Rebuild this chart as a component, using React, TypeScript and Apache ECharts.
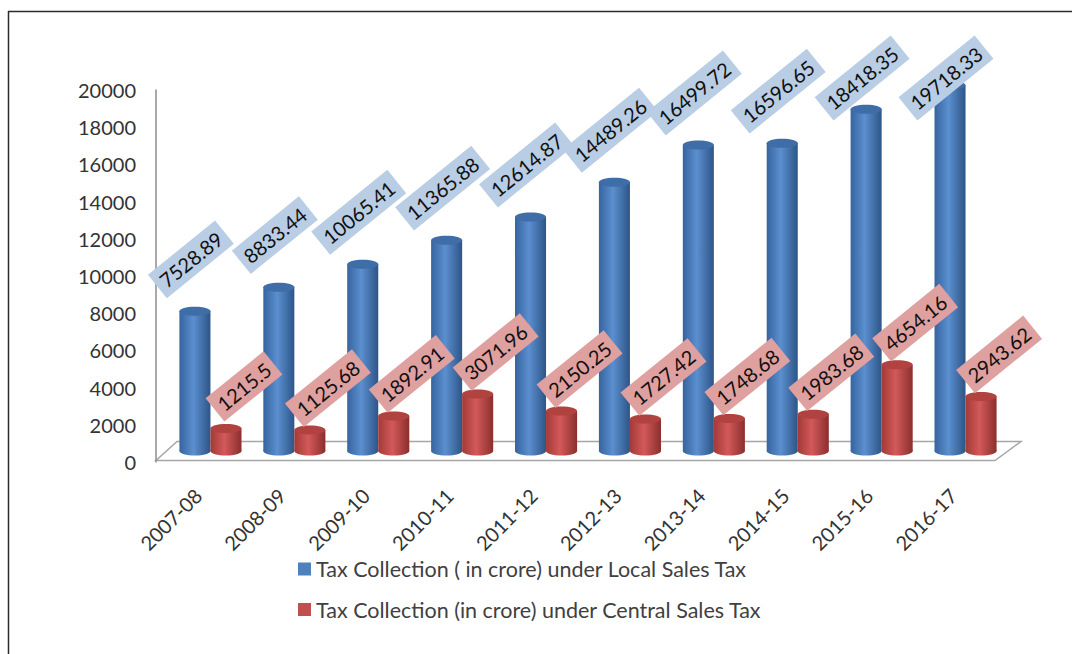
import React, { useEffect, useRef } from "react";
import * as echarts from "echarts";

const categories = ["2007-08", "2008-09", "2009-10", "2010-11", "2011-12", "2012-13", "2013-14", "2014-15", "2015-16", "2016-17"];
const localSalesTax = [7528.89, 8833.44, 10065.41, 11365.88, 12614.87, 14489.26, 16499.72, 16596.65, 18418.35, 19718.33];
const centralSalesTax = [1215.5, 1125.68, 1892.91, 3071.96, 2150.25, 1727.42, 1748.68, 1983.68, 4654.16, 2943.62];
const seriesNames = [
  "Tax Collection ( in crore) under Local Sales Tax",
  "Tax Collection (in crore) under Central Sales Tax",
];
const yMin = 0;
const yMax = 20000;
const yInterval = 2000;

const FONT = "Lato, 'Noto Sans', sans-serif";

type Look = {
  side: number;
  edgeL: string;
  mid: string;
  edgeR: string;
  topColor: string;
  labelBg: string;
  labelDx: number;
  labelDy: number;
  minLabelY: number;
};

function makeCylinder(look: Look) {
  return (params: any, api: any) => {
    const i = api.value(0);
    const v = api.value(1);
    const base = api.coord([i, 0]);
    const top = api.coord([i, v]);
    const band = api.size([1, 0])[0];
    const w = band * 0.37;
    const rx = w / 2;
    const ry = 4.5;
    const cx = base[0] + (look.side * w) / 2;
    const grad = new echarts.graphic.LinearGradient(0, 0, 1, 0, [
      { offset: 0, color: look.edgeL },
      { offset: 0.45, color: look.mid },
      { offset: 1, color: look.edgeR },
    ]);
    return {
      type: "group",
      children: [
        {
          type: "rect",
          shape: { x: cx - rx, y: top[1], width: w, height: base[1] - top[1] },
          style: { fill: grad },
        },
        {
          type: "ellipse",
          shape: { cx, cy: base[1], rx, ry },
          style: { fill: grad },
        },
        {
          type: "ellipse",
          shape: { cx, cy: top[1], rx, ry },
          style: { fill: look.topColor },
        },
        {
          type: "text",
          x: cx + look.labelDx,
          y: Math.max(top[1] + look.labelDy, look.minLabelY),
          rotation: (39 * Math.PI) / 180,
          z2: 100,
          style: {
            text: String(v),
            font: `20px ${FONT}`,
            fill: "#111111",
            align: "center",
            verticalAlign: "middle",
            backgroundColor: look.labelBg,
            padding: [5, 6],
          },
        },
      ],
    };
  };
}

export default function App() {
  const ref = useRef<HTMLDivElement>(null);
  useEffect(() => {
    if (!ref.current) return;
    const chart = echarts.init(ref.current, undefined, { renderer: "svg" });
    const option: any = {
      animation: false,
      backgroundColor: "#ffffff",
      textStyle: { fontFamily: FONT },
      grid: [
        { left: 156, top: 90, width: 839, height: 372 },
        { left: 168.5, top: 80, width: 839, height: 371 },
      ],
      xAxis: [
        {
          type: "category",
          gridIndex: 0,
          data: categories,
          axisLine: { show: false },
          axisTick: { show: false },
          axisLabel: {
            rotate: 45,
            margin: 30,
            fontSize: 20,
            color: "#333333",
            fontFamily: FONT,
            interval: 0,
          },
        },
        {
          type: "category",
          gridIndex: 1,
          data: categories,
          show: false,
        },
      ],
      yAxis: [
        {
          type: "value",
          gridIndex: 0,
          min: yMin,
          max: yMax,
          interval: yInterval,
          splitLine: { show: false },
          axisTick: { show: false },
          axisLine: { show: true, lineStyle: { color: "#8c8c8c", width: 1.5 } },
          axisLabel: {
            margin: 20,
            fontSize: 20,
            color: "#333333",
            fontFamily: FONT,
            formatter: (v: number) => String(v),
          },
        },
        {
          type: "value",
          gridIndex: 1,
          min: yMin,
          max: yMax,
          interval: yInterval,
          show: false,
        },
      ],
      legend: {
        orient: "vertical",
        left: 293,
        top: 553,
        itemWidth: 13,
        itemHeight: 13,
        itemGap: 18.5,
        textStyle: { fontSize: 21.5, lineHeight: 22, color: "#404040", fontFamily: FONT },
        data: [
          { name: seriesNames[0], icon: "rect" },
          { name: seriesNames[1], icon: "rect" },
        ],
      },
      graphic: [
        {
          type: "line",
          z: 0,
          shape: { x1: 8.5, y1: 11, x2: 8.5, y2: 654 },
          style: { stroke: "#2b2b2b", lineWidth: 1.5 },
        },
        {
          type: "line",
          z: 0,
          shape: { x1: 8, y1: 11.5, x2: 1072, y2: 11.5 },
          style: { stroke: "#2b2b2b", lineWidth: 1.5 },
        },
        {
          type: "polygon",
          z: 0,
          shape: {
            points: [
              [156, 460.5],
              [995, 460.5],
              [1021, 441.5],
              [177, 441.5],
            ],
          },
          style: { fill: "#ffffff", stroke: "#a6a6a6", lineWidth: 1.5 },
        },
      ],
      series: [
        {
          name: seriesNames[0],
          type: "custom",
          xAxisIndex: 1,
          yAxisIndex: 1,
          z: 2,
          itemStyle: { color: "#4F81BD" },
          encode: { x: 0, y: 1 },
          data: localSalesTax.map((v, i) => [i, v]),
          renderItem: makeCylinder({
            side: -1,
            edgeL: "#36649f",
            mid: "#5b8fcf",
            edgeR: "#2d5587",
            topColor: "#3f6da7",
            labelBg: "#b9cde5",
            labelDx: -4,
            labelDy: -52,
            minLabelY: 78,
          }),
        },
        {
          name: seriesNames[1],
          type: "custom",
          xAxisIndex: 1,
          yAxisIndex: 1,
          z: 2,
          itemStyle: { color: "#C0504D" },
          encode: { x: 0, y: 1 },
          data: centralSalesTax.map((v, i) => [i, v]),
          renderItem: makeCylinder({
            side: 1,
            edgeL: "#a23a37",
            mid: "#d3595a",
            edgeR: "#8a2f2d",
            topColor: "#b0423f",
            labelBg: "#dfa0a0",
            labelDx: 18,
            labelDy: -42,
            minLabelY: 78,
          }),
        },
      ],
    };
    chart.setOption(option);
    return () => chart.dispose();
  }, []);
  return (
    <div
      ref={ref}
      style={{ position: "absolute", left: 0, top: 0, width: 1072, height: 654 }}
    />
  );
}
